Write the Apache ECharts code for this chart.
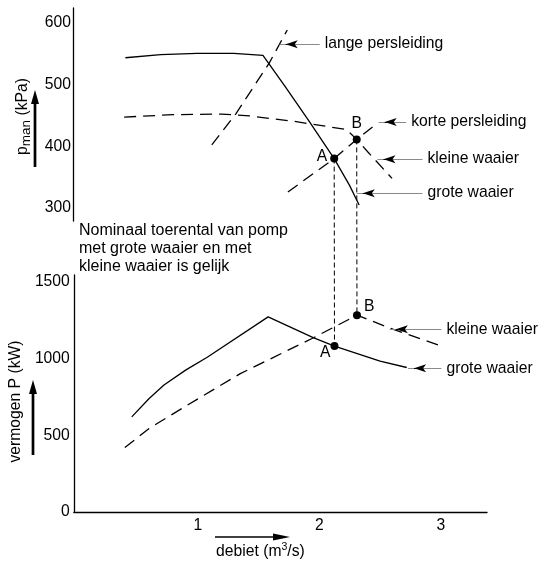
<!DOCTYPE html>
<html><head><meta charset="utf-8">
<script src="https://cdn.jsdelivr.net/npm/echarts@6/dist/echarts.min.js"></script>
<style>html,body{margin:0;padding:0;background:#fff}#c{width:539px;height:563px}</style>
</head><body><div id="c"></div>
<script>
// ---- data ----
const flowTicks = [1, 2, 3];
const pressureTicks = [300, 400, 500, 600];
const powerTicks = [0, 500, 1000, 1500];

// top panel: pump pressure (kPa) vs flow (m3/s)
const pressureGroteWaaier = [[0.41,543],[0.70,548],[1.00,550],[1.30,550],[1.54,547],[1.72,497],[1.92,440],[2.125,380],[2.25,337],[2.33,305]];
const pressureKleineWaaier = [[0.40,447],[0.80,451],[1.20,452],[1.43,449],[1.80,440],[2.225,427],[2.31,411],[2.40,391],[2.60,348]];
const pressureLangePersleiding = [[1.12,402],[1.316,452],[1.59,534],[1.74,588]];
const pressureKortePersleiding = [[1.745,326],[2.125,380],[2.31,411],[2.44,431]];

// bottom panel: power (kW) vs flow
const powerGroteWaaier = [[0.457,620],[0.60,740],[0.722,828],[0.90,925],[1.078,1009],[1.579,1272],[1.95,1137],[2.125,1082],[2.50,983],[2.72,942]];
const powerKleineWaaier = [[0.40,420],[0.60,545],[0.90,690],[1.35,902],[1.94,1131],[2.31,1283],[2.61,1190],[3.01,1081]];

// operating points
const pointNames = ['A', 'B'];
const pointFlow = [2.125, 2.31];
const pointPressure = [380, 411];
const pointPower = [1082, 1283];

// annotation labels: [text, arrow tip flow, arrow tip value, line end flow]
const annLange = ['lange persleiding', 1.677, 565, 2.006];
const annKorte = ['korte persleiding', 2.49, 439, 2.717];
const annKleineTop = ['kleine waaier', 2.48, 379, 2.85];
const annGroteTop = ['grote waaier', 2.31, 324, 2.85];
const annKleineBot = ['kleine waaier', 2.58, 1191, 3.005];
const annGroteBot = ['grote waaier', 2.73, 937, 3.005];

const noteText = ['Nominaal toerental van pomp', 'met grote waaier en met', 'kleine waaier is gelijk'];

// ---- chart ----
const FONT = '"Liberation Sans", Arial, sans-serif';
const FS = 15.7;
const chart = echarts.init(document.getElementById('c'), null, {renderer: 'canvas'});

function annot(a) {
  const [text, tx, ty, ex] = a;
  return {
    silent: true, animation: false, symbol: ['none', 'none'],
    data: [
      [{coord: [tx, ty], lineStyle: {color: '#8a8a8a', width: 1, type: 'solid'},
        label: {show: true, position: 'end', formatter: text, color: '#000', fontSize: FS, fontFamily: FONT, distance: 5}},
       {coord: [ex, ty]}],
      [{coord: [tx + 0.05, ty], symbol: 'arrow', symbolSize: [6, 12], lineStyle: {color: '#000', width: 1, type: 'solid'}, label: {show: false}},
       {coord: [tx + 0.09, ty], symbol: 'none'}]
    ]
  };
}

function curve(name, data, xi, dashed, a) {
  return {
    name, type: 'line', xAxisIndex: xi, yAxisIndex: xi, data, symbol: 'none', smooth: false,
    animation: false, silent: true, z: 3,
    lineStyle: {color: '#000', width: 1.3, type: dashed ? [12, 7] : 'solid'},
    markLine: annot(a)
  };
}

function pointsSeries(vals, xi, labelCfg) {
  return {
    type: 'scatter', xAxisIndex: xi, yAxisIndex: xi, symbol: 'circle', symbolSize: 8, animation: false, silent: true, z: 5,
    itemStyle: {color: '#000', opacity: 1},
    data: pointNames.map((n, i) => ({name: n, value: [pointFlow[i], vals[i]],
      label: Object.assign({show: true, formatter: '{b}', color: '#000', fontSize: FS, fontFamily: FONT}, labelCfg[i])}))
  };
}

const axisLineStyle = {color: '#000', width: 1.3};
const plain = v => String(v);
const option = {
  backgroundColor: '#fff',
  animation: false,
  textStyle: {fontFamily: FONT},
  grid: [
    {left: 73, top: 8, width: 414, height: 213},
    {left: 73, top: 275, width: 414, height: 237}
  ],
  xAxis: [
    {gridIndex: 0, type: 'value', min: -0.02, max: 3.38, show: false},
    {gridIndex: 1, type: 'value', min: -0.02, max: 3.38,
     axisLine: {show: true, onZero: false, lineStyle: axisLineStyle}, axisTick: {show: false}, splitLine: {show: false},
     axisLabel: {customValues: flowTicks, formatter: plain, color: '#000', fontSize: FS, fontFamily: FONT, margin: 6},
     name: '{a|debiet (m}{s|3}{a|/s)}', nameLocation: 'middle', nameGap: 30,
     nameTextStyle: {padding: [0, 40, 0, 0], rich: {
       a: {fontSize: FS, fontFamily: FONT, color: '#000', lineHeight: 20},
       s: {fontSize: 10.5, fontFamily: FONT, color: '#000', verticalAlign: 'top', lineHeight: 10}}}}
  ],
  yAxis: [
    {gridIndex: 0, type: 'value', min: 279, max: 623.5,
     axisLine: {show: true, onZero: false, lineStyle: axisLineStyle}, axisTick: {show: false}, splitLine: {show: false},
     axisLabel: {customValues: pressureTicks, formatter: plain, color: '#000', fontSize: FS, fontFamily: FONT, margin: 2},
     name: '{a|p}{b|man}{a| (kPa)}', nameLocation: 'middle', nameGap: 40, nameRotate: 90,
     nameTextStyle: {padding: [0, 4, 0, 0], rich: {
       a: {fontSize: FS, fontFamily: FONT, color: '#000', lineHeight: 20},
       b: {fontSize: 13.5, fontFamily: FONT, color: '#000', verticalAlign: 'bottom', lineHeight: 12}}}},
    {gridIndex: 1, type: 'value', min: 0, max: 1545,
     axisLine: {show: true, onZero: false, lineStyle: axisLineStyle}, axisTick: {show: false}, splitLine: {show: false},
     axisLabel: {customValues: powerTicks, formatter: plain, color: '#000', fontSize: FS, fontFamily: FONT, margin: 4},
     name: 'vermogen P (kW)', nameLocation: 'middle', nameGap: 42, nameRotate: 90,
     nameTextStyle: {padding: [0, 16, 0, 0], color: '#000', fontSize: FS, fontFamily: FONT}}
  ],
  series: [
    curve('grote waaier', pressureGroteWaaier, 0, false, annGroteTop),
    curve('kleine waaier', pressureKleineWaaier, 0, true, annKleineTop),
    curve('lange persleiding', pressureLangePersleiding, 0, true, annLange),
    curve('korte persleiding', pressureKortePersleiding, 0, true, annKorte),
    pointsSeries(pointPressure, 0, [{position: 'left', distance: 3, offset: [0, -2]}, {position: 'top', distance: 4}]),
    curve('grote waaier (P)', powerGroteWaaier, 1, false, annGroteBot),
    curve('kleine waaier (P)', powerKleineWaaier, 1, true, annKleineBot),
    pointsSeries(pointPower, 1, [{position: 'left', distance: 2, offset: [2, 7]}, {position: 'right', distance: 3, offset: [0, -9]}])
  ]
};
chart.setOption(option);

// decorations + connectors computed through the chart's own scales
const graphics = [];
pointNames.forEach((n, i) => {
  const pTop = chart.convertToPixel({xAxisIndex: 0, yAxisIndex: 0}, [pointFlow[i], pointPressure[i]]);
  const pBot = chart.convertToPixel({xAxisIndex: 1, yAxisIndex: 1}, [pointFlow[i], pointPower[i]]);
  graphics.push({type: 'line', silent: true, shape: {x1: pTop[0], y1: pTop[1], x2: pBot[0], y2: pBot[1]},
    style: {stroke: '#000', lineWidth: 1, lineDash: [5, 3]}});
});
graphics.push(
  {type: 'text', left: 79, top: 222, silent: true,
   style: {text: noteText.join('\n'), font: '16px ' + FONT, fill: '#000', lineHeight: 18}},
  {type: 'line', silent: true, shape: {x1: 35, y1: 167, x2: 35, y2: 100}, style: {stroke: '#000', lineWidth: 2.7}},
  {type: 'polygon', silent: true, shape: {points: [[31, 104], [35, 90], [39, 104]]}, style: {fill: '#000'}},
  {type: 'line', silent: true, shape: {x1: 33, y1: 455, x2: 33, y2: 390}, style: {stroke: '#000', lineWidth: 2.7}},
  {type: 'polygon', silent: true, shape: {points: [[29, 394], [33, 380], [37, 394]]}, style: {fill: '#000'}},
  {type: 'line', silent: true, shape: {x1: 215, y1: 537, x2: 276, y2: 537}, style: {stroke: '#000', lineWidth: 1.5}},
  {type: 'polygon', silent: true, shape: {points: [[273, 533.5], [290, 537], [273, 540.5]]}, style: {fill: '#000'}}
);
chart.setOption({graphic: graphics});
</script>
</body></html>
